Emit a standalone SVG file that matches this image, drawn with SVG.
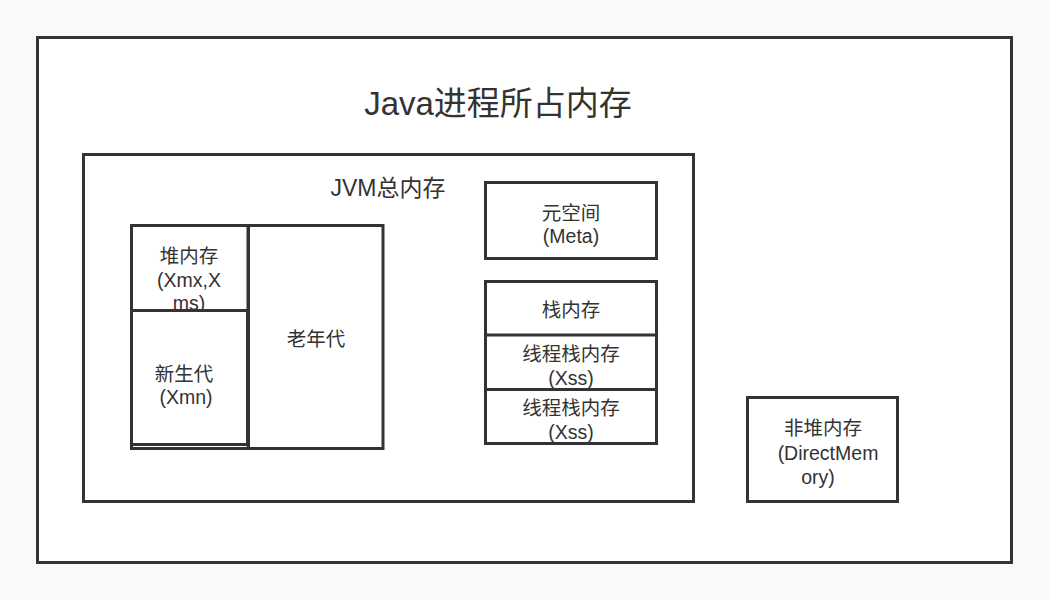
<svg xmlns="http://www.w3.org/2000/svg" width="1050" height="600" viewBox="0 0 1050 600">
<style>
.box{fill:#fff;stroke:#333;stroke-width:3}
.t{font-family:"Liberation Sans","Noto Sans CJK SC",sans-serif;fill:#333;text-anchor:middle}
.s{font-size:19.5px}
</style>
<rect width="1050" height="600" fill="#f9f9f9"/>
<g id="process">
<rect class="box" x="37.5" y="37.5" width="974" height="525"/>
<text class="t" x="498" y="115" style="font-size:33px">Java进程所占内存</text>
</g>
<g id="jvm">
<rect class="box" x="83.5" y="154.5" width="610" height="347"/>
<text class="t" x="388" y="196" style="font-size:23px">JVM总内存</text>
</g>
<g id="heap">
<rect class="box" x="131.5" y="225.5" width="116.5" height="223"/>
<text class="t s" x="189" y="263">堆内存</text>
<text class="t s" x="189" y="287">(Xmx,X</text>
<text class="t s" x="189" y="310">ms)</text>
</g>
<g id="young">
<rect class="box" x="131.5" y="310.5" width="116" height="134"/>
<text class="t s" x="184" y="381">新生代</text>
<text class="t s" x="186" y="404">(Xmn)</text>
</g>
<g id="old">
<rect class="box" x="248.5" y="225.5" width="134.5" height="223"/>
<text class="t s" x="316" y="346">老年代</text>
</g>
<g id="meta">
<rect class="box" x="485.5" y="182.5" width="171" height="76"/>
<text class="t s" x="571" y="220">元空间</text>
<text class="t s" x="571" y="243">(Meta)</text>
</g>
<g id="stack">
<rect class="box" x="485.5" y="281.5" width="171" height="162"/>
<text class="t s" x="571" y="317">栈内存</text>
</g>
<g id="thread1">
<rect class="box" x="485.5" y="335" width="171" height="54.5"/>
<text class="t s" x="571" y="361">线程栈内存</text>
<text class="t s" x="571" y="385">(Xss)</text>
</g>
<g id="thread2">
<rect class="box" x="485.5" y="389.5" width="171" height="54"/>
<text class="t s" x="571" y="415">线程栈内存</text>
<text class="t s" x="571" y="439">(Xss)</text>
</g>
<g id="offheap">
<rect class="box" x="747.5" y="397.5" width="150" height="104"/>
<text class="t s" x="823" y="435">非堆内存</text>
<text class="t s" x="828" y="460">(DirectMem</text>
<text class="t s" x="818" y="484">ory)</text>
</g>
<g id="connectors"/>
</svg>
